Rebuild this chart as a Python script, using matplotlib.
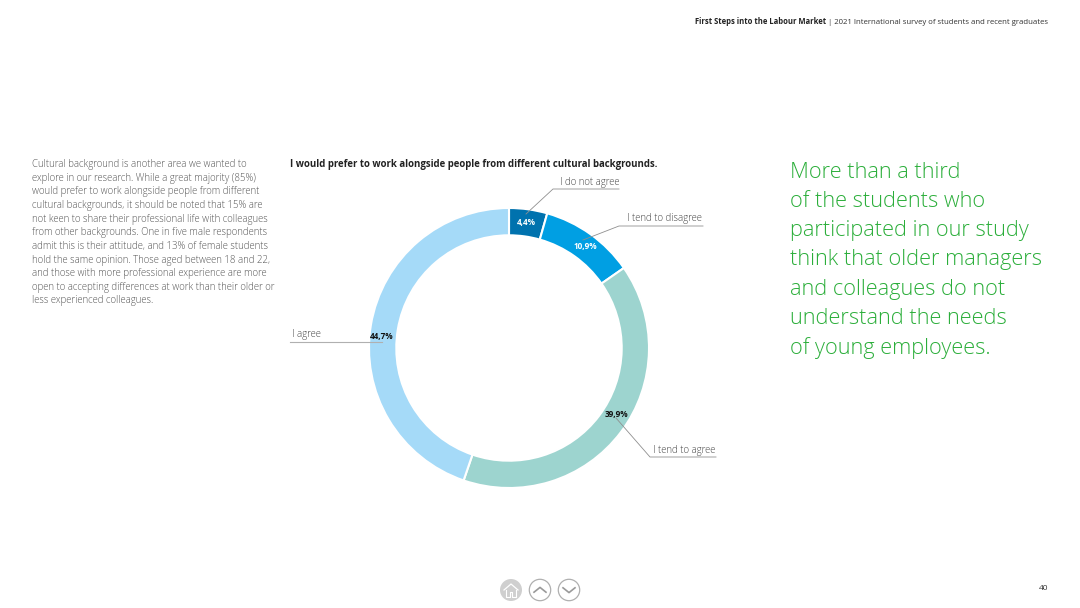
import matplotlib
matplotlib.use('Agg')
import matplotlib.pyplot as plt
from matplotlib import patches as mp

plt.rcParams['font.family'] = ['Open Sans', 'DejaVu Sans']

W, H = 1080, 608

categories = ['I do not agree', 'I tend to disagree', 'I tend to agree', 'I agree']
values = [4.4, 10.9, 39.9, 44.7]
value_labels = ['4,4%', '10,9%', '39,9%', '44,7%']
colors = ['#0072AE', '#009FE3', '#9DD4CF', '#A5DAF8']
value_colors = ['white', 'white', '#111111', '#111111']

chart_title = 'I would prefer to work alongside people from different cultural backgrounds.'
header_bold = 'First Steps into the Labour Market'
header_rest = '| 2021 International survey of students and recent graduates'
page_number = '40'

body_lines = [
    'Cultural background is another area we wanted to',
    'explore in our research. While a great majority (85%)',
    'would prefer to work alongside people from different',
    'cultural backgrounds, it should be noted that 15% are',
    'not keen to share their professional life with colleagues',
    'from other backgrounds. One in five male respondents',
    'admit this is their attitude, and 13% of female students',
    'hold the same opinion. Those aged between 18 and 22,',
    'and those with more professional experience are more',
    'open to accepting differences at work than their older or',
    'less experienced colleagues.',
]
quote_lines = [
    'More than a third',
    'of the students who',
    'participated in our study',
    'think that older managers',
    'and colleagues do not',
    'understand the needs',
    'of young employees.',
]

fig = plt.figure(figsize=(W / 100, H / 100), dpi=100, facecolor='white')

# donut
cx, cy, r = 509, 348, 140
ax = fig.add_axes([(cx - r) / W, 1 - (cy + r) / H, 2 * r / W, 2 * r / H])
ax.pie(values, colors=colors, startangle=90, counterclock=False, radius=1,
       wedgeprops=dict(width=0.195, edgecolor='white', linewidth=1.5))
ax.set_xlim(-1, 1)
ax.set_ylim(-1, 1)

# overlay in pixel coords, y going down
ax_top = fig.add_axes([0, 0, 1, 1])
ax_top.set_xlim(0, W)
ax_top.set_ylim(H, 0)
ax_top.axis('off')

# leader lines, label sits on the horizontal part
line_col = '#8f8f8f'
ax_top.plot([616, 650, 716], [418, 457, 457], color=line_col, lw=0.6)
ax_top.plot([526, 553, 619], [214, 189, 189], color=line_col, lw=0.6)
ax_top.plot([583, 619, 703], [240, 226, 226], color=line_col, lw=0.6)
ax_top.plot([290, 382], [342, 342], color='#b0b0b0', lw=0.8)

label_x = [619, 702, 715.5, 292]
label_y = [182, 219, 450, 334]
label_ha = ['right', 'right', 'right', 'left']
for name, x, y, ha in zip(categories, label_x, label_y, label_ha):
    ax_top.text(x, y, name, fontsize=6.95, color='#444444', ha=ha, va='center', fontweight='light')

val_x = [526, 585, 616, 382]
val_y = [222, 247, 415, 336]
for txt, col, x, y in zip(value_labels, value_colors, val_x, val_y):
    ax_top.text(x, y, txt, fontsize=5.9, color=col, ha='center', va='center', fontweight='bold')

ax_top.text(290, 165, chart_title, fontsize=6.9, color='#222222', fontweight='bold', va='center')

# header
ax_top.text(695, 22, header_bold, fontsize=5.5, color='#222222', fontweight='bold', va='center')
ax_top.text(1048, 22, header_rest, fontsize=5.55, color='#333333', ha='right', va='center')

for i, line in enumerate(body_lines):
    ax_top.text(32, 164.5 + i * 13.65, line, fontsize=6.9, color='#555555', va='center', fontweight='light')

for i, line in enumerate(quote_lines):
    ax_top.text(790, 172 + i * 29.3, line, fontsize=15.65, color='#2BAE3A', va='center', fontweight='light')

ax_top.text(1048, 588, page_number, fontsize=6, color='#333333', ha='right', va='center')

# nav buttons
ax_top.add_patch(mp.Circle((511, 590), 11, facecolor='#CFCFCF', edgecolor='none'))
ax_top.plot([504, 511, 518], [590, 584, 590], color='white', lw=0.9)
ax_top.plot([506, 506, 510, 510, 512, 512, 516, 516], [590, 597, 597, 592, 592, 597, 597, 590], color='white', lw=0.8)
for bx, chev in [(540, -1), (569, 1)]:
    ax_top.add_patch(mp.Circle((bx, 590), 10.7, facecolor='white', edgecolor='#B0B0B0', lw=0.9))
    ax_top.plot([bx - 6, bx, bx + 6], [590 - chev * 2.2, 590 + chev * 2.6, 590 - chev * 2.2],
                color='#9A9A9A', lw=1.2)

fig.savefig('out.png', dpi=100)
